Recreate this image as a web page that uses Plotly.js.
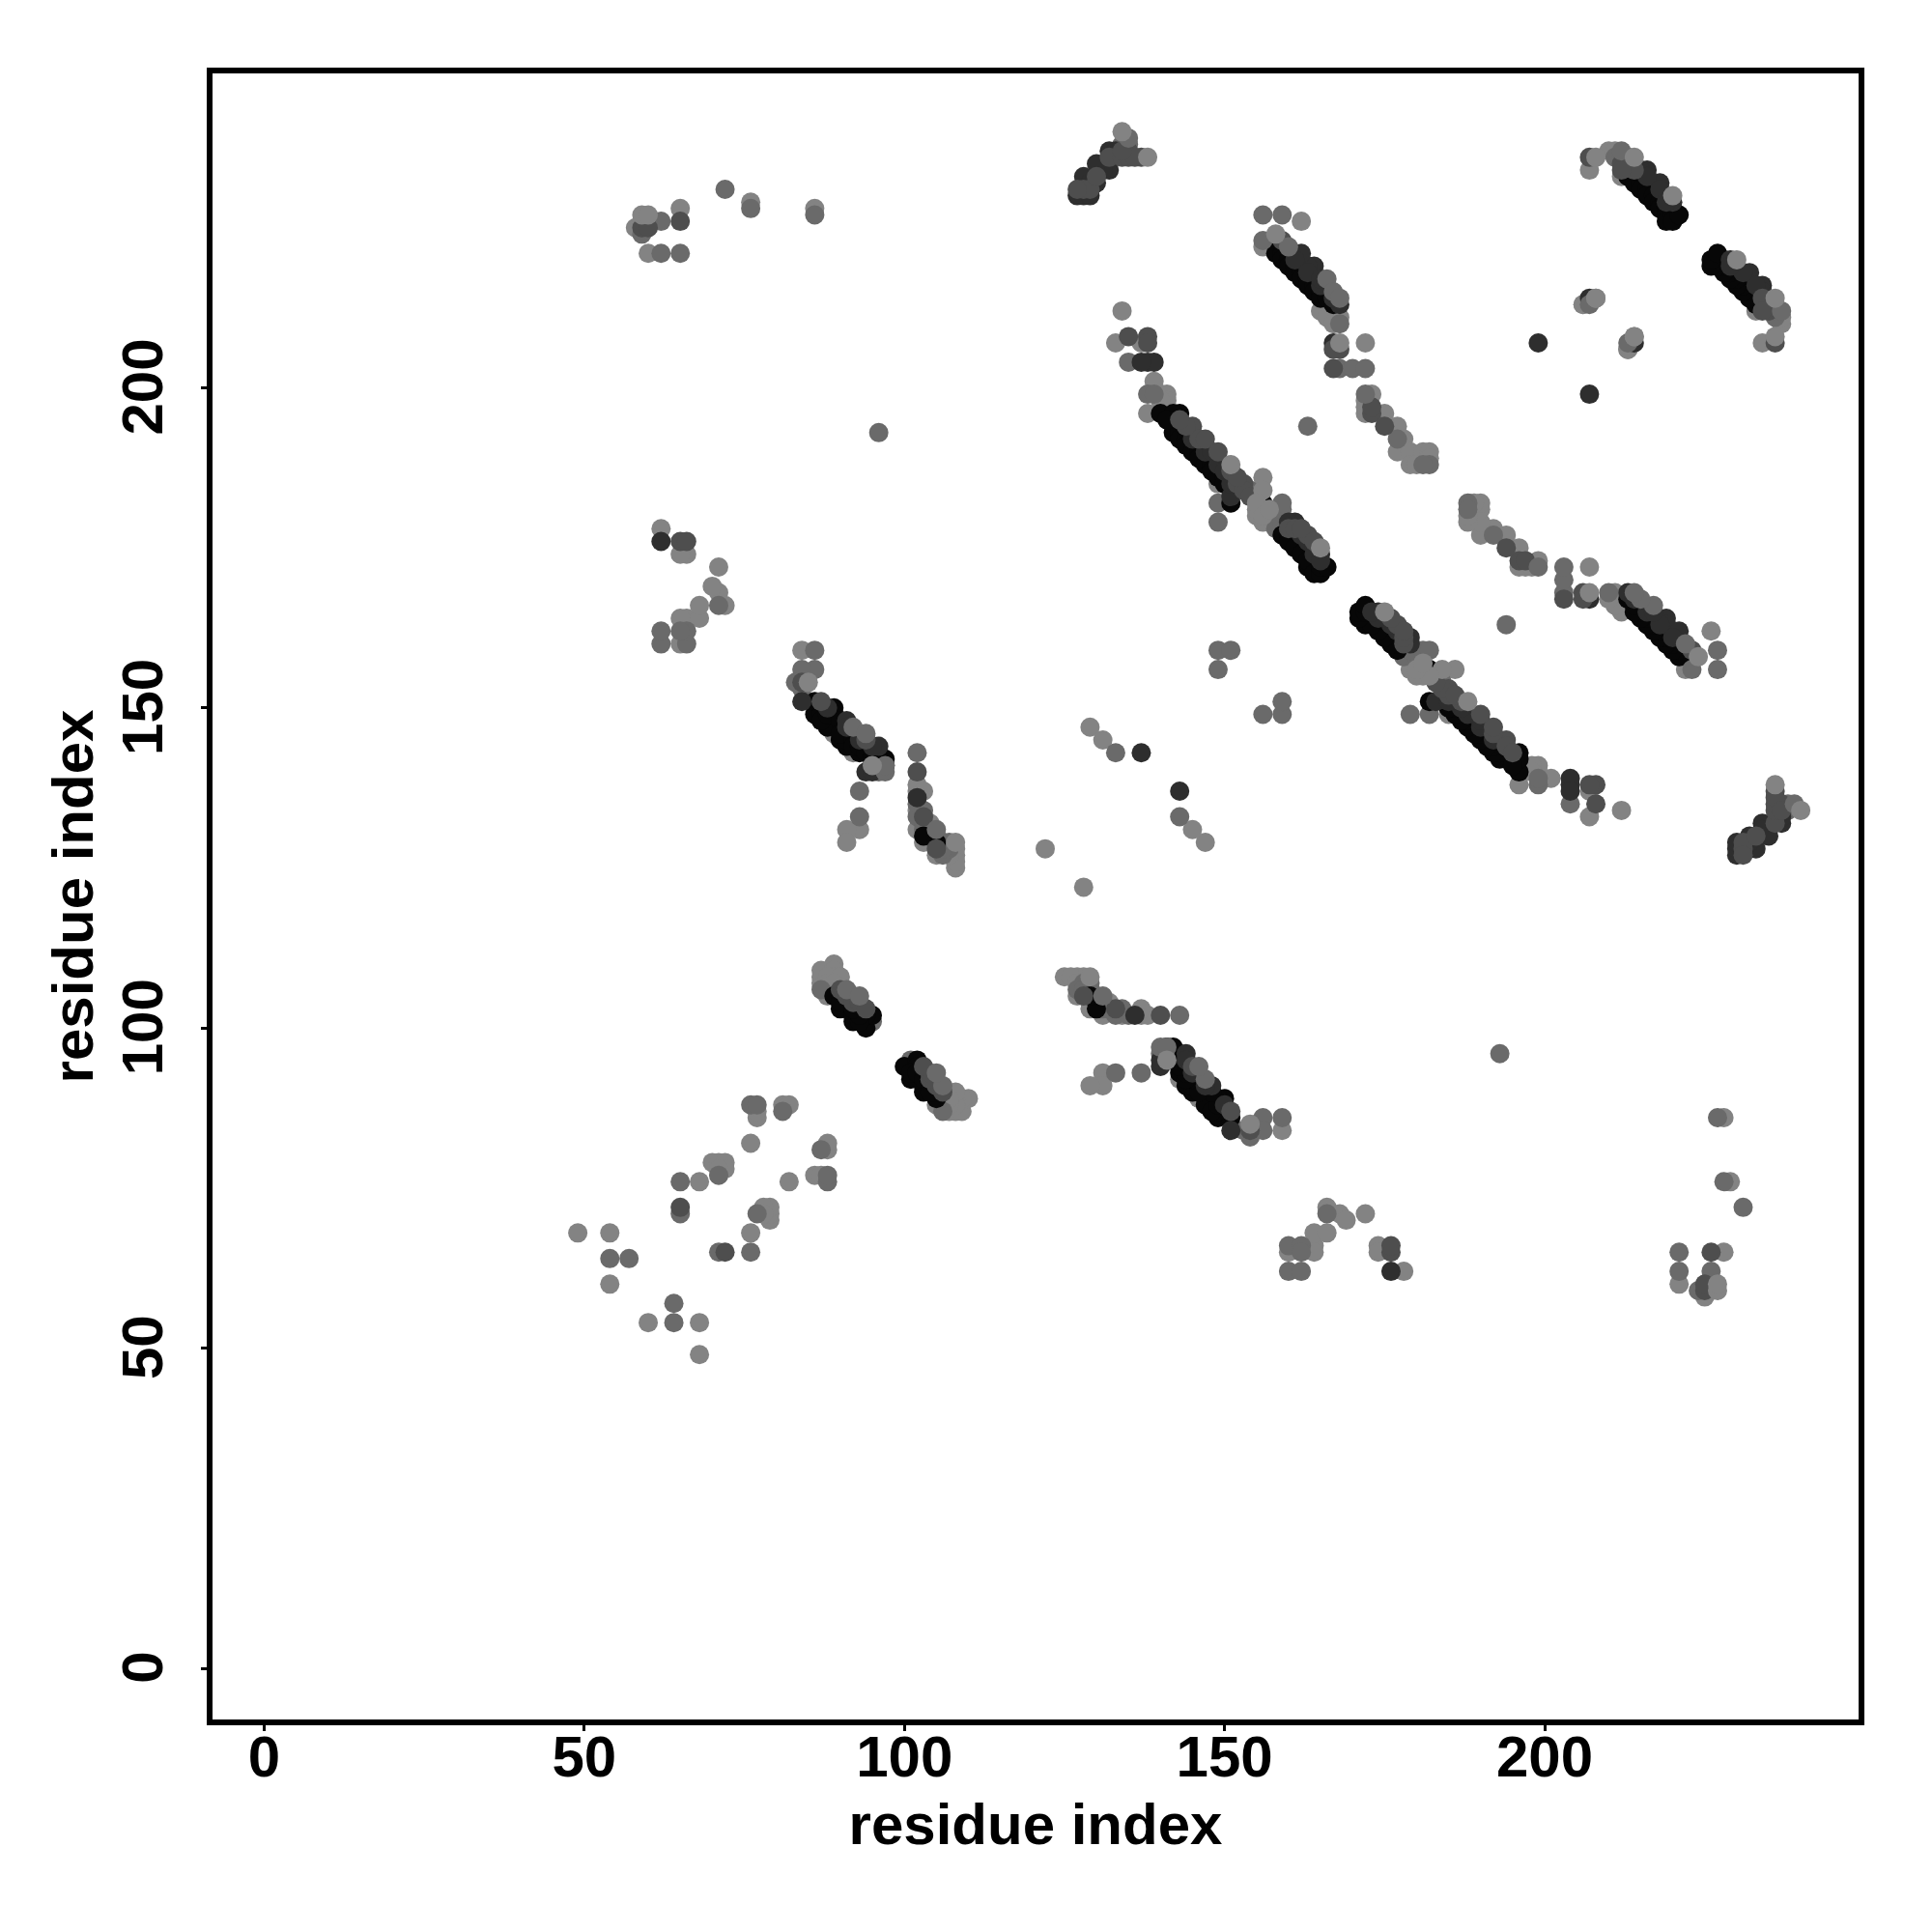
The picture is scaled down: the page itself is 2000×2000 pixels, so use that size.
<!DOCTYPE html>
<html><head><meta charset="utf-8">
<script src="https://cdn.plot.ly/plotly-3.0.1.min.js"></script>
<style>html,body{margin:0;padding:0;background:#fff}</style></head>
<body><div id="chart" style="width:2000px;height:2000px"></div>
<script>
const axisTicks = [0, 50, 100, 150, 200];
const axisLabel = "residue index";
const backLight = [[49,68],[54,68],[54,60],[68,76],[70,79],[71,79],[72,79],[72,78],[71,78],[76,82],[77,86],[77,87],[81,88],[82,88],
 [58,225],[59,226],[60,221],[65,228],[76,229],[86,228],
 [87,108],[87,107],[87,109],[89,110],[89,109],[89,108],[88,108],[90,108],[88,105],[91,103],[88,107],[88,106],[89,107],
 [89,146],[92,143],[85,155],[84,159],
 [93,131],[91,131],[91,129],[122,128],
 [108,125],[108,127],[108,128],[108,126],[107,127],[104,129],[103,129],[102,131],[102,137],[102,138],[103,137],[102,134],[104,132],[105,127],
 [129,147],[131,145],
 [134,212],[133,207],[137,207],[139,201],[140,199],[141,199],[141,198],[138,196],[140,198],[147,189],[149,185],
 [155,180],[156,179],[155,181],[156,186],[158,181],[163,174],[157,180],[155,183],
 [172,207],[165,212],[166,211],[168,211],[167,210],[156,222],
 [172,196],[172,197],[172,198],[173,199],[175,196],[177,194],[177,190],[178,192],[179,190],[179,188],[181,190],[182,190],[182,189],[180,188],
 [207,234],[210,237],[211,237],[212,233],[206,213],[213,206],
 [160,65],[164,66],[164,68],[166,68],[166,72],[168,71],[169,70],[172,71],[174,66],[174,65],[62,178],[164,65]];
const backMid = [[54,64],[57,64],[65,71],[65,76],[71,77],[76,88],[77,88],[81,87],[59,224],[62,226],[65,221],[62,221],[72,231],[76,228],[86,227],
 [160,66],[162,66],[160,62],[162,62],[166,71],[162,65],
 [95,101],[87,106],[84,153],[93,137],[93,133],[133,143],[106,127],[86,159],[86,156],[84,156],[83,154],[96,140],[102,133],[102,135],
 [107,128],[106,129],[105,130],[104,131],[103,132],[106,128],[104,130],[107,129],[103,134],[103,131],
 [135,204],[138,199],[139,199],[158,178],[154,184],[149,182],[149,179],[149,159],[151,159],[149,156],[158,180],[159,179],[159,181],
 [96,193],[163,194],[168,203],[170,203],[172,203],[177,192],[182,188],[181,188],[211,236],[212,236],[134,238],[135,238]];
const inkBlack = [[89,105],[90,103],[92,101],[94,100],[95,102],[91,104],[93,103],[94,102],[90,105],[90,104],[92,102],[93,101],[93,102],[92,103],
 [93,143],[89,150],[89,149],[88,147],[86,149],[90,145],[91,144],[86,151],[96,143],[97,142],[91,145],
 [87,149],[87,148],[88,149],[90,148],[90,146],[92,145],[92,144],[93,144],[94,143],[95,143],[95,142],[96,142],[96,141],[97,141],
 [103,130],[105,129],
 [140,196],[142,193],[143,193],[143,196],[142,196],[141,195],[143,192],[144,192],[144,191],[145,190],[146,190],[146,189],[147,188],[148,188],[148,187],[149,186],[150,186],[150,185],[151,184],[151,182],
 [159,177],[160,177],[161,176],[162,175],[163,174],[164,172],[163,172],
 [160,176],[161,175],[162,174],[163,173],[164,171],[165,171],[165,172],[166,172],[156,182],
 [158,223],[158,221],[159,221],[159,220],[160,220],[160,219],[161,219],[161,218],[162,218],[162,217],[163,217],[163,216],[164,216],[164,215],[165,215],[165,214],[166,214],[167,213],
 [213,233],[214,233],[214,232],[215,232],[215,231],[216,231],[216,230],[217,230],[217,229],[218,229],[218,228],[219,228],[219,227],[219,226],[220,228],[220,227],[220,226],[221,227]];
const inkDark = [[91,148],[84,151],[102,136],[165,174],[161,179],[160,179],[164,219],[163,219],[162,221],[168,213],
 [138,204],[139,204],[137,204],[207,199],[137,143],[151,183],[167,207],[220,229],[216,234],[215,234],[218,232],
 [145,192],[147,190],[148,190],[149,188],[150,187],[151,186],[151,185],[162,177],[163,176],[164,175],[164,174],[165,173],
 [94,140],[95,140],[96,144],[88,150],[91,147],[93,145],[95,144],[165,216],[167,214],[161,220],[163,218],[165,217],[216,233],[218,231],[219,229],
 [127,230],[128,230],[129,230],[130,232],[132,234],[131,234],[130,235],[132,237],[133,237],[128,233],[129,232],[176,62],[207,214]];
const darkGrey = [[65,72],[65,226],[59,225],[60,225],[94,145],[87,151],[84,154],[102,140],[103,133],[105,128],
 [90,106],[91,105],[92,104],[93,104],[94,103],
 [135,208],[138,208],[138,207],[145,194],[146,192],[147,192],[149,190],[151,187],[153,185],[163,177],
 [144,194],[143,195],[160,178],[161,178],[162,178],[164,176],[152,185],[153,184],[152,186],[154,183],
 [159,223],[213,235],[214,234],[212,235],[213,236],[212,234],
 [128,231],[129,231],[130,233],[132,236],[134,236],[135,236],[137,236],
 [168,206],[167,203],[167,206],[173,196],[173,197],[175,194],[176,65],[176,66],
 [207,236],[127,231],[135,237],[136,236],[134,237]];
const frontMid = [[91,106],[93,105],[92,147],[94,146],[105,131],[97,140],[97,141],[102,143],
 [160,222],[166,217],[167,215],[168,214],[168,210],[156,223],[159,182],[156,227],[159,227],[172,199],
 [135,239],[212,237],[207,213]];
const frontLight = [[59,227],[60,227],[95,141],[85,154],[108,129],[151,188],[156,184],[155,182],[156,180],[157,181],[165,175],
 [158,224],[162,226],[134,240],[138,236],[208,236],[214,236],[220,230],[168,207],[208,214],[214,208]];
const layerNames = ["backLight","backMid","inkBlack","inkDark","darkGrey","frontMid","frontLight"];
const layerPairs = [backLight,backMid,inkBlack,inkDark,darkGrey,frontMid,frontLight];
const layerGreys = ["#838383","#6a6a6a","#070707","#2e2e2e","#4e4e4e","#6a6a6a","#838383"];

const traces = layerPairs.map((pairs,k)=>({
  type:"scatter",mode:"markers",name:layerNames[k],
  x:pairs.map(p=>p[0]).concat(pairs.map(p=>p[1])),
  y:pairs.map(p=>p[1]).concat(pairs.map(p=>p[0])),
  marker:{size:20,color:layerGreys[k],line:{width:0}},
  cliponaxis:true,hoverinfo:"skip"
}));
const font = {family:"Liberation Sans, Arial, sans-serif",size:60,color:"#000",weight:700};
function axis(lo,hi,standoff,labelShift){return {
  range:[lo,hi],tickvals:axisTicks,ticktext:axisTicks.map(String),
  showgrid:false,zeroline:false,showline:true,mirror:true,linecolor:"#000",linewidth:6,
  ticks:"outside",ticklen:6,tickwidth:3,tickcolor:"#000",tickfont:font,ticklabelstandoff:labelShift,
  title:{text:axisLabel,font:font,standoff:standoff}
};}
const yax = axis(-7.99,249.1,0,16); yax.tickangle=-90;
const xax = axis(-8.05,249.03,18,-25); xax.tickangle=0;
Plotly.newPlot("chart",traces,{
  width:2000,height:2000,showlegend:false,
  paper_bgcolor:"#fff",plot_bgcolor:"#fff",
  margin:{l:219.5,r:76,t:76,b:219.5,autoexpand:false},
  xaxis:xax,yaxis:yax
},{displayModeBar:false,staticPlot:true}).then(()=>{
  // rotated y tick labels sit slightly above their ticks; centre them on the ticks
  document.querySelectorAll(".ytick text").forEach(t=>{
    t.setAttribute("transform","translate(0,8) "+(t.getAttribute("transform")||""));
  });
});
</script></body></html>
